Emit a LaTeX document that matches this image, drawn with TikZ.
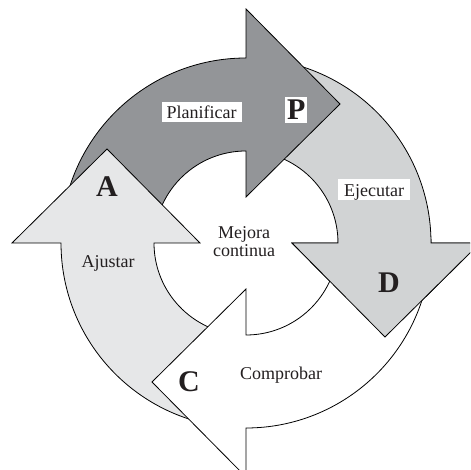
\documentclass[tikz,border=0pt]{standalone}
\usepackage{fontspec}
\setmainfont{Liberation Serif}
\definecolor{pgray}{RGB}{147,149,152}
\definecolor{dgray}{RGB}{209,211,212}
\definecolor{agray}{RGB}{230,231,232}
\definecolor{txt}{RGB}{35,31,32}
\tikzset{
  arrowshape/.style={draw=black, line width=0.8pt, line join=miter},
  lbl/.style={font=\fontsize{18}{20}\selectfont, text=txt, inner sep=0pt, anchor=base},
  bigletter/.style={font=\fontsize{30}{32}\selectfont\bfseries, text=txt, inner sep=0pt, anchor=base},
  wbox/.style={fill=white},
}
\newcommand\cyclearrow[2]{%
  \begin{scope}[shift={(246,227)}, rotate=#1]
    \path[arrowshape, fill=#2] (177:92) -- (177:185)
      arc[start angle=177, end angle=90, radius=185]
      -- (90:234) -- (94,139) -- (90:46) -- (90:92)
      arc[start angle=90, end angle=177, radius=92] -- cycle;
  \end{scope}}
\begin{document}
\begin{tikzpicture}[x=1pt, y=1pt]
  \clip (0,0) rectangle (470,470);
  \fill[white] (0,0) rectangle (470,470);
  % order: D, P, A, C, then D head again
  \cyclearrow{-90}{dgray}
  \cyclearrow{0}{pgray}
  \cyclearrow{90}{agray}
  \cyclearrow{180}{white}
  \begin{scope}
    \clip (250,0) rectangle (470,230);
    \cyclearrow{-90}{dgray}
  \end{scope}
  % labels
  \node[lbl, wbox, text height=16.6pt, text depth=4pt, minimum width=80pt] (plan) at (201.7,351.7) {Planificar};
  \node[bigletter, wbox, text height=23.3pt, text depth=3.3pt, minimum width=22.3pt] (p) at (296.2,350) {P};
  \node[lbl, wbox, text height=18pt, text depth=3pt, minimum width=72pt] (ejec) at (374,273) {Ejecutar};
  \node[bigletter] (a) at (107,273.3) {A};
  \node[lbl] (ajus) at (108,202) {Ajustar};
  \node[lbl] (mej1) at (244,231.7) {Mejora};
  \node[lbl] (mej2) at (244,213.3) {continua};
  \node[bigletter] (d) at (389,177) {D};
  \node[bigletter] (c) at (189,78.5) {C};
  \node[lbl] (comp) at (281,90) {Comprobar};
\end{tikzpicture}
\end{document}
